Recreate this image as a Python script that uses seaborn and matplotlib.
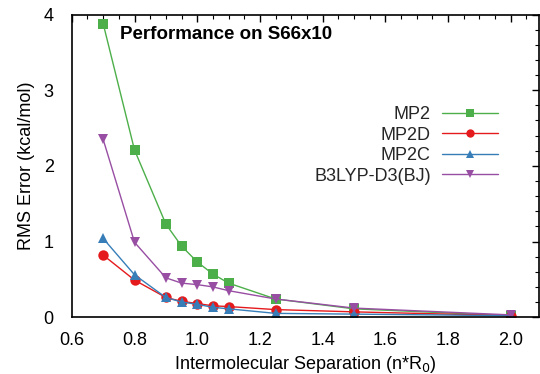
import matplotlib
matplotlib.use("Agg")
import matplotlib.pyplot as plt
import seaborn as sns
import pandas as pd
from matplotlib.ticker import MultipleLocator

sep = [0.7, 0.8, 0.9, 0.95, 1.0, 1.05, 1.1, 1.25, 1.5, 2.0]
mp2 = [3.88, 2.21, 1.23, 0.94, 0.73, 0.57, 0.45, 0.24, 0.11, 0.02]
mp2d = [0.82, 0.49, 0.26, 0.21, 0.18, 0.15, 0.14, 0.10, 0.07, 0.02]
mp2c = [1.04, 0.56, 0.26, 0.20, 0.17, 0.13, 0.11, 0.05, 0.04, 0.02]
b3lyp = [2.35, 0.99, 0.52, 0.45, 0.43, 0.40, 0.35, 0.24, 0.12, 0.03]
methods = ["MP2", "MP2D", "MP2C", "B3LYP-D3(BJ)"]
colors = ["#4daf4a", "#e41a1c", "#377eb8", "#984ea3"]
markers = ["s", "o", "^", "v"]

sns.set_theme(style="white")
plt.rcParams["font.family"] = ["Liberation Sans", "DejaVu Sans"]

rows = []
for m, vals in zip(methods, [mp2, mp2d, mp2c, b3lyp]):
    for x, y in zip(sep, vals):
        rows.append({"sep": x, "rms": y, "method": m})
df = pd.DataFrame(rows)

fig = plt.figure(figsize=(5.4, 3.74), dpi=100)
ax = fig.add_axes([0.133, 0.152, 0.865, 0.809])

sns.lineplot(data=df, x="sep", y="rms", hue="method", style="method",
             hue_order=methods, style_order=methods,
             palette=colors, markers=dict(zip(methods, markers)),
             dashes=False, markersize=7.5, markeredgewidth=0, linewidth=1.0,
             ax=ax, legend=True)

ax.set_xlim(0.6, 2.09)
ax.set_ylim(0, 4)
ax.xaxis.set_minor_locator(MultipleLocator(0.05))
ax.yaxis.set_minor_locator(MultipleLocator(0.2))
ax.set_xticks([0.6, 0.8, 1.0, 1.2, 1.4, 1.6, 1.8, 2.0])
ax.set_xticklabels(["0.6", "0.8", "1.0", "1.2", "1.4", "1.6", "1.8", "2.0"])
ax.set_yticks([0, 1, 2, 3, 4])
ax.set_yticklabels(["0", "1", "2", "3", "4"])
ax.tick_params(which="both", direction="in", top=True, right=True,
               labelsize=13, colors="black")
ax.tick_params(axis="x", which="major", pad=11)
ax.tick_params(axis="y", which="major", pad=13)
ax.tick_params(which="major", length=5, width=1)
ax.tick_params(which="minor", length=3, width=0.8)
for s in ax.spines.values():
    s.set_color("black")
    s.set_linewidth(1.2)

ax.set_xlabel("Intermolecular Separation (n*R$_0$)", fontsize=13, color="black", labelpad=3)
ax.set_ylabel("RMS Error (kcal/mol)", fontsize=13, color="black", labelpad=6)

ax.text(0.103, 0.935, "Performance on S66x10", transform=ax.transAxes,
        fontsize=13.5, fontweight="bold", ha="left", va="center", color="black")

handles, labels = ax.get_legend_handles_labels()
leg = ax.legend(handles, labels, loc="upper right", bbox_to_anchor=(0.931, 0.728),
                frameon=False, markerfirst=False, fontsize=13,
                handlelength=3.1, labelspacing=0.2, handletextpad=0.6,
                borderpad=0, markerscale=0.8)

fig.savefig("out.png", dpi=100)
